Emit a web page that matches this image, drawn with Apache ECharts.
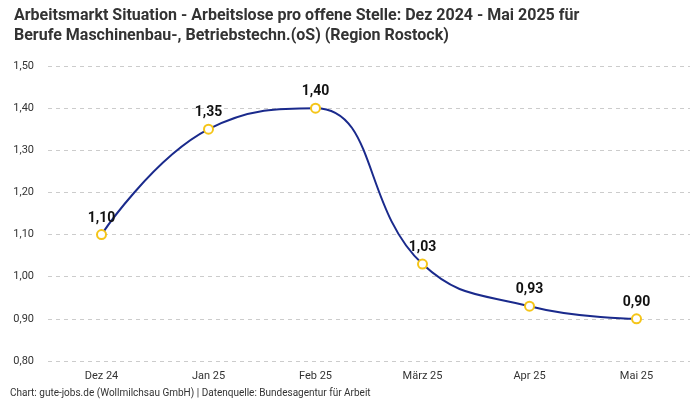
<!DOCTYPE html>
<html><head><meta charset="utf-8">
<script src="https://cdn.jsdelivr.net/npm/echarts@6/dist/echarts.min.js"></script>
<style>html,body{margin:0;padding:0;background:#fff}#c{width:700px;height:400px}</style>
</head><body><div id="c"></div>
<script>
var categories = ["Dez 24", "Jan 25", "Feb 25", "März 25", "Apr 25", "Mai 25"];
var values = [1.10, 1.35, 1.40, 1.03, 0.93, 0.90];
var titleText = "Arbeitsmarkt Situation - Arbeitslose pro offene Stelle: Dez 2024 - Mai 2025 für\nBerufe Maschinenbau-, Betriebstechn.(oS) (Region Rostock)";
var footerText = "Chart: gute-jobs.de (Wollmilchsau GmbH) | Datenquelle: Bundesagentur für Arbeit";
var fmt = function (v) { return Number(v).toFixed(2).replace('.', ','); };
var chart = echarts.init(document.getElementById('c'));
chart.setOption({
  animation: false,
  backgroundColor: '#fff',
  title: [{
    text: titleText, left: 9, top: 1,
    textStyle: { fontFamily: 'Roboto', fontSize: 16, fontWeight: 'bold', color: '#333', lineHeight: 20 }
  }, {
    text: footerText, left: 10, top: 387, padding: 0,
    textStyle: { fontFamily: 'Roboto', fontSize: 10, fontWeight: 'normal', color: '#333', lineHeight: 12 }
  }],
  grid: { left: 48, right: 10, top: 66, bottom: 39 },
  xAxis: {
    type: 'category', data: categories, boundaryGap: true,
    axisLine: { show: false }, axisTick: { show: false },
    axisLabel: { color: '#333', fontFamily: 'Roboto', fontSize: 11, margin: 10 }
  },
  yAxis: {
    type: 'value', min: 0.8, max: 1.5, interval: 0.1,
    axisLine: { show: false }, axisTick: { show: false },
    axisLabel: { color: '#333', fontFamily: 'Roboto', fontSize: 11, margin: 14, formatter: fmt },
    splitLine: { lineStyle: { color: '#ccc', type: [4, 4] } }
  },
  series: [{
    type: 'line', data: values, smooth: 0.45,
    lineStyle: { color: '#1a2a8c', width: 2 },
    symbol: 'circle', symbolSize: 9,
    itemStyle: { color: '#fff', borderColor: '#f5c518', borderWidth: 2 },
    label: { show: true, position: 'top', distance: 4, formatter: function (p) { return fmt(p.value); },
      fontFamily: 'Roboto', fontSize: 14, fontWeight: 'bold', color: '#111' }
  }]
});
</script></body></html>
